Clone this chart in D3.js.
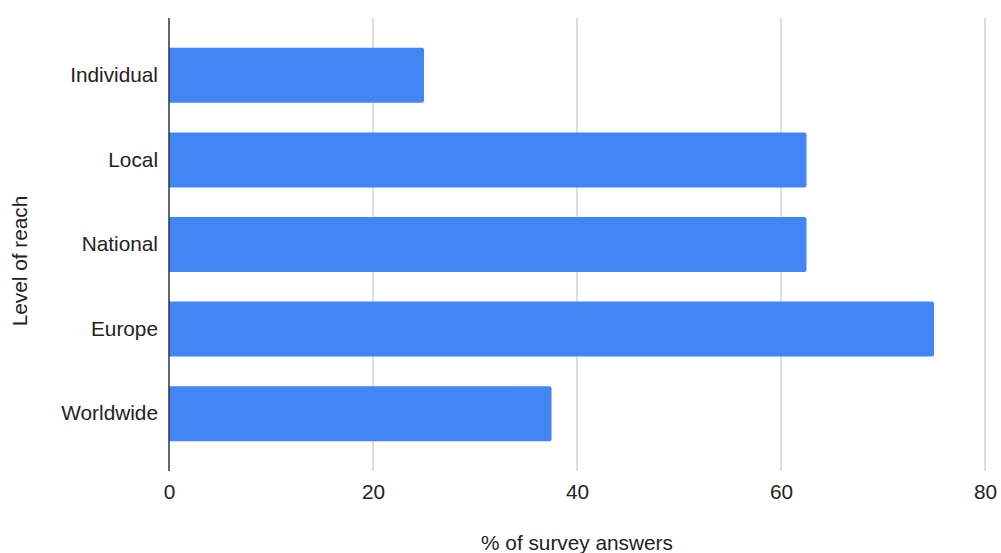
<!DOCTYPE html>
<html lang="en">
<head>
  <meta charset="UTF-8">
  <title>Level of reach</title>
  <style>
    body { margin: 0; background: #fff; }
    text { font-family: "Liberation Sans", Arial, sans-serif; fill: #222; }
  </style>
</head>
<body>
  <div id="svg"></div>
  <script src="https://d3js.org/d3.v7.min.js"></script>
  <script>
    const categories = ['Individual', 'Local', 'National', 'Europe', 'Worldwide']
    const values = [25, 62.5, 62.5, 75, 37.5]
    const xTicks = [0, 20, 40, 60, 80]

    const width = 1001
    const height = 553
    const fontSize = '20.8px'
    const svg = d3.select('#svg').append('svg').attr('width', width).attr('height', height)

    const plotTop = 18
    const plotBottom = 471

    const xScale = d3.scaleLinear().domain([0, 80]).range([169, 985])
    const yScale = d3.scaleBand().domain(categories).range([33, 456]).paddingInner(0.35).paddingOuter(0.175)

    // gridlines
    svg.append('g').selectAll('line').data(xTicks.slice(1)).enter().append('line')
      .attr('x1', d => xScale(d)).attr('x2', d => xScale(d))
      .attr('y1', plotTop).attr('y2', plotBottom)
      .attr('stroke', '#cccccc').attr('stroke-width', 1.3)

    // bars (rounded right end)
    const r = 2
    svg.append('g').selectAll('path').data(values).enter().append('path')
      .attr('fill', '#4285f4')
      .attr('d', (d, i) => {
        const x0 = xScale(0), x1 = xScale(d)
        const y0 = yScale(categories[i]), h = yScale.bandwidth()
        return `M${x0},${y0}H${x1 - r}Q${x1},${y0} ${x1},${y0 + r}V${y0 + h - r}Q${x1},${y0 + h} ${x1 - r},${y0 + h}H${x0}Z`
      })

    // zero axis line
    svg.append('line')
      .attr('x1', xScale(0)).attr('x2', xScale(0))
      .attr('y1', plotTop).attr('y2', plotBottom)
      .attr('stroke', '#333').attr('stroke-width', 1.5)

    // x tick labels
    const xAxis = d3.axisBottom(xScale).tickValues(xTicks).tickSize(0).tickPadding(0)
    const gX = svg.append('g').attr('transform', `translate(0,${plotBottom + 13})`).call(xAxis)
    gX.select('.domain').remove()
    gX.selectAll('text').attr('font-size', fontSize).attr('dy', '0.71em')
      .style('font-family', '"Liberation Sans", Arial, sans-serif').attr('fill', '#222')

    // y category labels
    const yAxis = d3.axisLeft(yScale).tickSize(0).tickPadding(0)
    const gY = svg.append('g').attr('transform', `translate(${xScale(0) - 11},0)`).call(yAxis)
    gY.select('.domain').remove()
    gY.selectAll('text').attr('font-size', fontSize)
      .style('font-family', '"Liberation Sans", Arial, sans-serif').attr('fill', '#222')

    // axis titles
    svg.append('text').attr('x', 577).attr('y', 550).attr('text-anchor', 'middle')
      .attr('font-size', fontSize).text('% of survey answers')
    svg.append('text').attr('transform', 'translate(27,261) rotate(-90)').attr('text-anchor', 'middle')
      .attr('font-size', fontSize).text('Level of reach')
  </script>
</body>
</html>
